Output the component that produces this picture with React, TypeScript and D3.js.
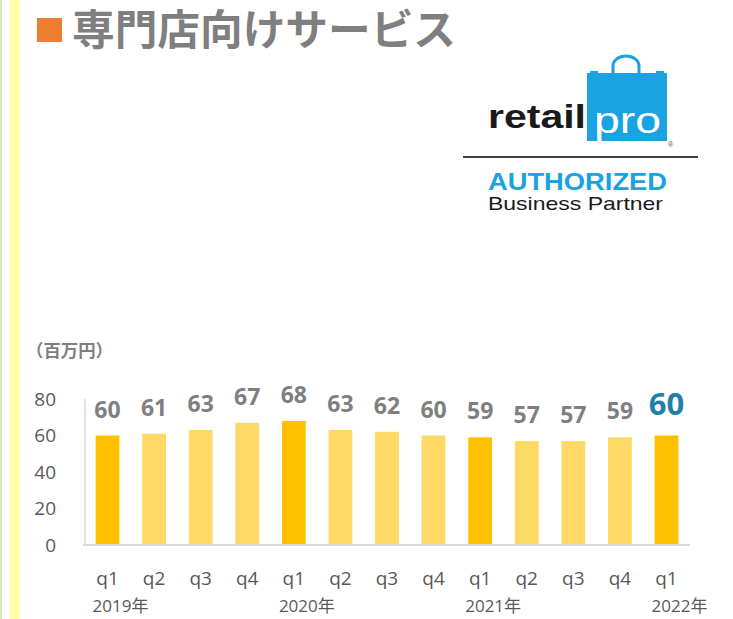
import React from "react";
import * as d3 from "d3";

// quarterly sales, million yen
const quarters = ["q1", "q2", "q3", "q4", "q1", "q2", "q3", "q4", "q1", "q2", "q3", "q4", "q1"];
const sales = [60, 61, 63, 67, 68, 63, 62, 60, 59, 57, 57, 59, 60];
const yearLabels = [
  { index: 0, label: "2019年" },
  { index: 4, label: "2020年" },
  { index: 8, label: "2021年" },
  { index: 12, label: "2022年" },
];
const yTicks = [0, 20, 40, 60, 80];

const W = 733;
const H = 619;
const FONT = "'Open Sans', 'Noto Sans CJK JP', sans-serif";
const JP = "'Noto Sans CJK JP', sans-serif";

const App = () => {
  const ids = quarters.map((_, i) => String(i));
  const x = d3.scaleBand().domain(ids).range([84, 690]).paddingInner(0.49).paddingOuter(0.25);
  const y = d3.scaleLinear().domain([0, 80]).range([545, 399]);
  const last = sales.length - 1;

  return (
    <svg width={W} height={H} style={{ position: "absolute", left: 0, top: 0, background: "#fff" }}>
      {/* page frame stripes */}
      <rect x={0} y={0} width={2} height={H} fill="#d6efb8" />
      <rect x={10} y={0} width={10} height={H} fill="#ffffaa" />

      {/* title */}
      <rect x={37} y={18} width={25} height={24} fill="#ed7d31" />
      <text x={72} y={45} fontFamily={JP} fontWeight={700} fontSize={42} fill="#7f7f7f"
        textLength={384} lengthAdjust="spacingAndGlyphs">
        専門店向けサービス
      </text>

      {/* retail pro logo */}
      <g>
        <text x={488} y={128} fontFamily="'Liberation Sans', Arial, sans-serif" fontWeight={700}
          fontSize={33} fill="#1a1a1a" textLength={98} lengthAdjust="spacingAndGlyphs">
          retail
        </text>
        <path d="M613,73 L613,66 A13,10 0 0 1 639,66 L639,73" fill="none" stroke="#1aa3e0" strokeWidth={3} />
        <rect x={587} y={73} width={80} height={68} fill="#1aa3e0" />
        <rect x={590} y={71} width={8} height={3} fill="#1aa3e0" />
        <rect x={656} y={71} width={8} height={3} fill="#1aa3e0" />
        <text x={594} y={133} fontFamily="'Liberation Sans', Arial, sans-serif" fontSize={36}
          fill="#fff" textLength={67} lengthAdjust="spacingAndGlyphs">
          pro
        </text>
        <text x={668} y={147} fontFamily="Arial, sans-serif" fontSize={7} fill="#555">®</text>
        <line x1={463} x2={698} y1={157} y2={157} stroke="#404040" strokeWidth={2} />
        <text x={488} y={190} fontFamily="'Liberation Sans', Arial, sans-serif" fontWeight={700}
          fontSize={23} fill="#1aa3e0" textLength={179} lengthAdjust="spacingAndGlyphs">
          AUTHORIZED
        </text>
        <text x={488} y={210} fontFamily="'Liberation Sans', Arial, sans-serif"
          fontSize={19} fill="#1a1a1a" textLength={175} lengthAdjust="spacingAndGlyphs">
          Business Partner
        </text>
      </g>

      {/* unit */}
      <text x={26} y={357} fontFamily={JP} fontWeight={700} fontSize={17} fill="#7f7f7f"
        textLength={87} lengthAdjust="spacingAndGlyphs">
        （百万円）
      </text>

      {/* y axis ticks */}
      {yTicks.map((t) => (
        <text key={t} x={56} y={y(t)} dy="0.36em" textAnchor="end" fontFamily={FONT}
          fontSize={19} fill="#595959">
          {t}
        </text>
      ))}
      <line x1={85} x2={85} y1={y(80)} y2={y(0)} stroke="#d9d9d9" strokeWidth={1.5} />

      {/* bars */}
      {sales.map((v, i) => (
        <rect key={i} x={x(String(i))} y={y(v)} width={x.bandwidth()} height={y(0) - y(v)}
          fill={quarters[i] === "q1" ? "#ffc000" : "#ffd966"} />
      ))}
      <line x1={83} x2={690} y1={y(0)} y2={y(0)} stroke="#d9d9d9" strokeWidth={2} />

      {/* value labels */}
      {sales.map((v, i) => (
        <text key={i} x={(x(String(i)) ?? 0) + x.bandwidth() / 2} y={y(v) - (i === last ? 21 : 18)}
          textAnchor="middle" fontFamily={FONT} fontWeight={700}
          fontSize={i === last ? 31 : 23} fill={i === last ? "#1f7fab" : "#7f7f7f"}>
          {v}
        </text>
      ))}

      {/* category labels */}
      {quarters.map((q, i) => (
        <text key={i} x={(x(String(i)) ?? 0) + x.bandwidth() / 2} y={585} textAnchor="middle"
          fontFamily={FONT} fontSize={19} fill="#595959">
          {q}
        </text>
      ))}
      {yearLabels.map((d) => (
        <text key={d.label} x={(x(String(d.index)) ?? 0) + x.bandwidth() / 2 + 13} y={612}
          textAnchor="middle" fontFamily={FONT} fontSize={17} fill="#595959">
          {d.label}
        </text>
      ))}
    </svg>
  );
};

export default App;
